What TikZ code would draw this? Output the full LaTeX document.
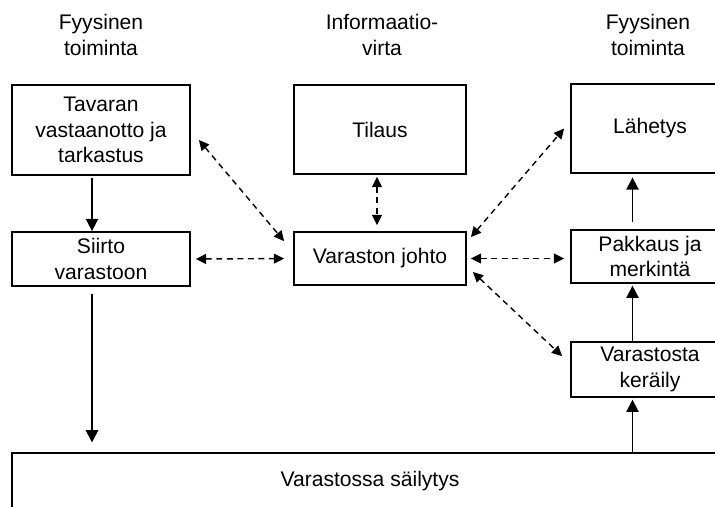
\documentclass[tikz,border=0pt]{standalone}
\usepackage{fontspec}
\setmainfont{Liberation Sans}
\usetikzlibrary{arrows.meta,positioning}

\tikzset{
  box/.style={draw, line width=1pt, align=center, inner sep=0pt},
  flow/.style={line width=0.9pt, -{Triangle[length=7pt,width=7pt]}},
  info/.style={line width=0.8pt, dash pattern=on 3.4pt off 2.6pt,
    {Triangle[length=5.8pt,width=5.6pt]}-{Triangle[length=5.8pt,width=5.6pt]}},
}

\begin{document}
\begin{tikzpicture}[every node/.style={font=\fontsize{12}{14.7}\selectfont}]
  \useasboundingbox (0,0) rectangle (14.3,-10.12);
  \clip (0,0) rectangle (14.3,-10.12);

  % column headers
  \node[align=center] (hleft) at (2.02,-0.7) {Fyysinen\\toiminta};
  \node[align=center] (hmid) at (7.64,-0.7) {Informaatio-\\virta};
  \node[align=center] (hright) at (12.96,-0.7) {Fyysinen\\toiminta};

  % boxes
  \node[box, minimum width=3.56cm, minimum height=1.8cm] (tavaran) at (2.02,-2.6) {Tavaran\\vastaanotto ja\\tarkastus};
  \node[box, minimum width=3.56cm, minimum height=1.08cm] (siirto) at (2.02,-5.18) {Siirto\\varastoon};
  \node[box, minimum width=3.44cm, minimum height=1.78cm] (tilaus) at (7.6,-2.59) {Tilaus};
  \node[box, minimum width=3.44cm, minimum height=1.06cm] (johto) at (7.6,-5.17) {Varaston johto};
  \node[box, minimum width=3.16cm, minimum height=1.78cm] (lahetys) at (13.0,-2.57) {Lähetys};
  \node[box, minimum width=3.16cm, minimum height=1.06cm] (pakkaus) at (13.0,-5.13) {Pakkaus ja\\merkintä};
  \node[box, minimum width=3.16cm, minimum height=1.1cm] (keraily) at (13.0,-7.39) {Varastosta\\keräily};
  \node[box, minimum width=14.32cm, minimum height=1.14cm] (varasto) at (7.4,-9.63) {Varastossa säilytys};

  \coordinate (lcol) at (1.84,0);
  \coordinate (rcol) at (12.65,0);

  % physical flow
  \draw[flow, shorten <=1pt] (tavaran.south -| lcol) -- (siirto.north -| lcol);
  \draw[flow, shorten <=4pt, shorten >=5.5pt] (siirto.south -| lcol) -- (varasto.north -| lcol);
  \draw[flow, shorten >=1pt] (varasto.north -| rcol) -- (keraily.south -| rcol);
  \draw[flow, shorten >=1pt] (keraily.north -| rcol) -- (pakkaus.south -| rcol);
  \draw[flow, shorten <=4pt, shorten >=2pt] (pakkaus.north -| rcol) -- (lahetys.south -| rcol);

  % information flow
  \draw[info] ([xshift=0.16cm,yshift=-0.2cm]tavaran.east) -- ([xshift=-0.18cm,yshift=-0.2cm]johto.north west);
  \draw[info, shorten <=0.1cm, shorten >=0.18cm] (siirto.east) -- (johto.west);
  \draw[info, shorten <=0.04cm, shorten >=0.12cm] ([xshift=-0.06cm]tilaus.south) -- ([xshift=-0.06cm]johto.north);
  \draw[info] ([xshift=0.08cm,yshift=-0.12cm]johto.north east) -- ([xshift=-0.12cm]lahetys.west);
  \draw[info, shorten <=0.08cm, shorten >=0.12cm] (johto.east) -- (johto.east -| pakkaus.west);
  \draw[info] ([xshift=0.12cm,yshift=-0.27cm]johto.east) -- ([xshift=-0.16cm,yshift=-0.3cm]keraily.north west);
\end{tikzpicture}
\end{document}
